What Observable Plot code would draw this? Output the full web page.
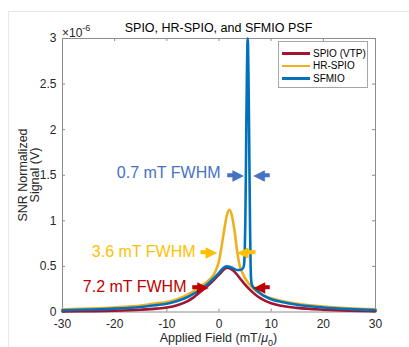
<!DOCTYPE html>
<html><head><meta charset="utf-8">
<script src="https://cdn.jsdelivr.net/npm/d3@7"></script>
<script src="https://cdn.jsdelivr.net/npm/@observablehq/plot@0.6"></script>
<style>
html,body{margin:0;padding:0;background:#fff;}
#wrap{position:relative;width:409px;height:347px;overflow:hidden;font-family:"Liberation Sans",Arial,Helvetica,sans-serif;color:#262626;}
#wrap svg{position:absolute;left:0;top:0;}
#frame{position:absolute;left:8px;top:11px;width:420px;height:360px;border-left:1px solid #e8e8e8;border-top:1px solid #e8e8e8;}
#title{position:absolute;left:62px;width:313px;top:21px;text-align:center;font-size:12.5px;line-height:14px;color:#000;white-space:nowrap;}
#expo{position:absolute;left:62px;top:22px;font-size:12px;line-height:14px;white-space:nowrap;}
#expo sup{font-size:9px;position:relative;top:-1px;}
#ylab{position:absolute;left:29px;top:175px;transform:translate(-50%,-50%) rotate(-90deg);text-align:center;font-size:12.5px;line-height:12px;white-space:nowrap;}
#xlab{position:absolute;left:62px;width:313px;top:331px;text-align:center;font-size:12.5px;line-height:15px;white-space:nowrap;}
#xlab sub{font-size:9px;}
#legend{position:absolute;left:278px;top:41px;width:90px;height:47px;border:1px solid #a6a6a6;background:#fff;box-sizing:border-box;padding-top:5px;}
.row{display:flex;align-items:center;height:12.5px;font-size:10px;color:#000;white-space:nowrap;}
.sw{flex:0 0 28px;width:28px;height:2.5px;margin-left:3px;margin-right:3px;}
.row span{flex:0 0 auto;}
</style></head>
<body>
<div id="wrap">
<div id="frame"></div>
<div id="chart"></div>
<div id="title">SPIO, HR-SPIO, and SFMIO PSF</div>
<div id="expo">×10<sup>-6</sup></div>
<div id="ylab">SNR Normalized<br>Signal (V)</div>
<div id="xlab">Applied Field (mT/<i>μ</i><sub>0</sub>)</div>
<div id="legend"></div>
</div>
<script>
// ---- data ----
const seriesNames = ["SPIO (VTP)", "HR-SPIO", "SFMIO"];
const seriesColors = ["#A2142F", "#EDB120", "#0072BD"];

const spioX = [-30,-25,-20,-15,-12,-10,-8,-6,-5,-4,-3,-2,-1,0,0.5,1,1.5,2,2.5,3,4,5,6,7,8,9,10,12,15,20,25,30];
const spioY = [0.006,0.009,0.014,0.025,0.037,0.05,0.075,0.12,0.155,0.2,0.25,0.295,0.35,0.41,0.44,0.47,0.485,0.48,0.465,0.44,0.37,0.3,0.24,0.19,0.15,0.12,0.095,0.068,0.045,0.025,0.014,0.008];

const hrX = [-30,-25,-20,-15,-12,-10,-8,-6,-5,-4,-3,-2,-1,-0.5,0,0.5,1,1.5,2,2.5,3,3.5,4,4.5,5,5.5,6,7,8,9,10,12,15,20,25,30];
const hrY = [0.03,0.038,0.05,0.07,0.095,0.11,0.14,0.19,0.225,0.26,0.3,0.345,0.41,0.47,0.56,0.72,0.9,1.06,1.12,1.05,0.88,0.66,0.5,0.43,0.37,0.33,0.29,0.235,0.2,0.17,0.15,0.12,0.09,0.06,0.04,0.03];

const sfX = [-30,-25,-20,-15,-12,-10,-8,-6,-5,-4,-3,-2,-1,0,0.5,1,1.5,2,2.5,3,3.5,4,4.6,4.8,4.95,5.05,5.15,5.25,5.35,5.45,5.5,5.55,5.65,5.75,5.85,5.95,6.05,6.15,6.3,6.6,7,8,9,10,12,15,20,25,30];
const sfY = [0.02,0.027,0.037,0.055,0.075,0.09,0.12,0.165,0.195,0.23,0.27,0.315,0.37,0.43,0.465,0.49,0.5,0.495,0.485,0.47,0.46,0.46,0.48,0.52,0.7,1.0,1.5,2.1,2.6,2.95,3.0,2.95,2.6,2.1,1.5,0.95,0.55,0.36,0.3,0.27,0.25,0.2,0.165,0.14,0.11,0.08,0.05,0.032,0.022];

const xTicks = [-30,-20,-10,0,10,20,30];
const yTicks = [0,0.5,1,1.5,2,2.5,3];

const annoText = ["0.7 mT FWHM", "3.6 mT FWHM", "7.2 mT FWHM"];
const annoX = [0.29, -4.5, -6.23];
const annoY = [1.53, 0.663, 0.272];
const annoColor = ["#4472C4", "#FFC000", "#C00000"];

// arrows: tail x, tip x, y, color index
const arrowTail = [1.57, 9.73, -3.54, 7.0, -5.13, 9.73];
const arrowTip  = [4.75, 6.55, -0.34, 3.49, -1.95, 6.67];
const arrowY    = [1.5, 1.5, 0.656, 0.656, 0.272, 0.272];
const arrowCol  = [0, 0, 1, 1, 2, 2];

// ---- build tables ----
const toRows = (xs, ys) => xs.map((x, i) => ({x, y: ys[i]}));
const series = [toRows(spioX, spioY), toRows(hrX, hrY), toRows(sfX, sfY)];
const annos = annoText.map((t, i) => ({t, x: annoX[i], y: annoY[i], c: annoColor[i]}));
const arrows = arrowTail.map((t, i) => ({
  tail: t, tip: arrowTip[i], y: arrowY[i], c: annoColor[arrowCol[i]],
  mid: t + (arrowTip[i] - t) * 0.5, right: arrowTip[i] > t
}));

const W = 409, H = 347, mL = 62, mR = 34, mT = 38, mB = 35.5;
const pw = W - mL - mR, ph = H - mT - mB;
const axisCol = "#8c8c8c";

const chart = Plot.plot({
  width: W, height: H,
  marginLeft: mL, marginRight: mR, marginTop: mT, marginBottom: mB,
  x: {domain: [-30, 30]},
  y: {domain: [0, 3]},
  style: {fontFamily: "Liberation Sans, Arial, Helvetica, sans-serif", fontSize: "12px", color: "#262626", background: "transparent", overflow: "visible"},
  marks: [
    Plot.axisX({ticks: xTicks, tickSize: 0, tickPadding: 7, label: null, tickFormat: d => String(d), fontSize: 12}),
    Plot.axisY({ticks: yTicks, tickSize: 0, tickPadding: 6, label: null, tickFormat: d => String(d), fontSize: 12}),
    Plot.tickX(xTicks, {x: d => d, insetTop: ph - 3, stroke: axisCol}),
    Plot.tickX(xTicks, {x: d => d, insetBottom: ph - 3, stroke: axisCol}),
    Plot.tickY(yTicks, {y: d => d, insetRight: pw - 3, stroke: axisCol}),
    Plot.tickY(yTicks, {y: d => d, insetLeft: pw - 3, stroke: axisCol}),
    Plot.frame({stroke: axisCol}),
    ...series.map((s, i) => Plot.line(s, {x: "x", y: "y", stroke: seriesColors[i], strokeWidth: 2.6, curve: "monotone-x"})),
    Plot.text(annos, {x: "x", y: "y", text: "t", fill: "c", textAnchor: "end", lineAnchor: "middle", fontSize: 16, fontFamily: "Liberation Sans, Arial, sans-serif"}),
    Plot.link(arrows, {x1: "tail", x2: "mid", y1: "y", y2: "y", stroke: "c", strokeWidth: 4}),
    Plot.text(arrows.filter(a => a.right), {x: "tip", y: "y", text: () => "▶", fill: "c", textAnchor: "end", lineAnchor: "middle", fontSize: 15, fontFamily: "DejaVu Sans"}),
    Plot.text(arrows.filter(a => !a.right), {x: "tip", y: "y", text: () => "◀", fill: "c", textAnchor: "start", lineAnchor: "middle", fontSize: 15, fontFamily: "DejaVu Sans"})
  ]
});
document.getElementById("chart").appendChild(chart);

const leg = document.getElementById("legend");
seriesNames.forEach((n, i) => {
  const r = document.createElement("div");
  r.className = "row";
  r.innerHTML = `<div class="sw" style="background:${seriesColors[i]}"></div><span>${n}</span>`;
  leg.appendChild(r);
});
</script>
</body></html>
